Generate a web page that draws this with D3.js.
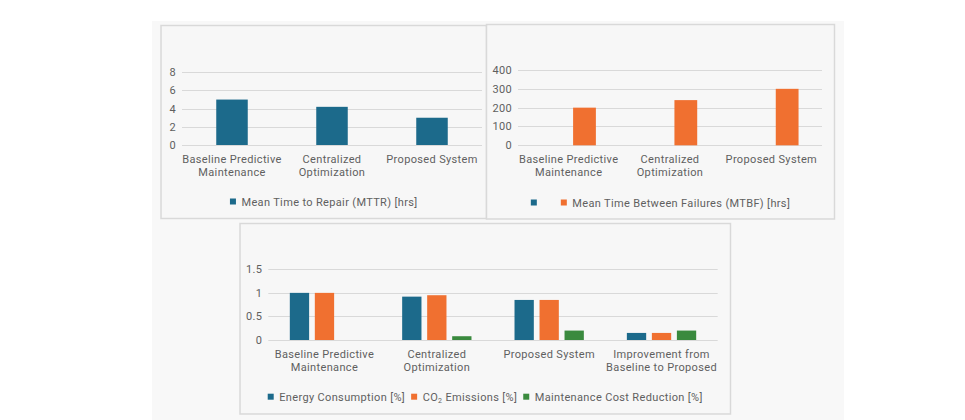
<!DOCTYPE html>
<html>
<head>
<meta charset="utf-8">
<script src="https://cdn.jsdelivr.net/npm/d3@7"></script>
<style>
	body { margin: 0; background: #ffffff; }
	svg { display: block; font-family: Roboto, "Noto Sans", sans-serif; }
	.tick-label, .cat-label, .legend-label { font-size: 11px; fill: #5f5f5f; letter-spacing: 0.35px; }
</style>
</head>
<body>
<svg id="chart" width="965" height="420"></svg>
<script>
// === Data ===
const categories = ['Baseline Predictive\nMaintenance', 'Centralized\nOptimization', 'Proposed System'];
const categoriesAll = ['Baseline Predictive\nMaintenance', 'Centralized\nOptimization', 'Proposed System', 'Improvement from\nBaseline to Proposed'];

const mttrSeries = ['Mean Time to Repair (MTTR) [hrs]'];
const mttrValues = [[5, 4.2, 3]];
const mttrTicks = [0, 2, 4, 6, 8];

const mtbfSeries = ['', 'Mean Time Between Failures (MTBF) [hrs]'];
const mtbfValues = [[null, null, null], [200, 240, 300]];
const mtbfTicks = [0, 100, 200, 300, 400];

const impactSeries = ['Energy Consumption [%]', 'CO2 Emissions [%]', 'Maintenance Cost Reduction [%]'];
const energyValues = [1, 0.92, 0.85, 0.15];
const co2Values = [1, 0.95, 0.85, 0.15];
const costValues = [0, 0.08, 0.2, 0.2];
const impactTicks = [0, 0.5, 1, 1.5];
const impactTickLabels = ['0', '0.5', '1', '1.5'];

const colors = ['#1c6a8b', '#f07030', '#3a8a3e'];

const svg = d3.select('#chart');

// background panel
svg.append('rect').attr('x', 152).attr('y', 21).attr('width', 692).attr('height', 400).attr('fill', '#f8f8f8');

function drawChart(cfg) {
	const g = svg.append('g');

	// box
	g.append('rect')
		.attr('x', cfg.box.x).attr('y', cfg.box.y)
		.attr('width', cfg.box.w).attr('height', cfg.box.h)
		.attr('fill', '#f7f7f7').attr('stroke', '#d9d9d9').attr('stroke-width', 1.5);

	const x0 = d3.scaleBand().domain(cfg.categories).range([cfg.plot.left, cfg.plot.right])
		.paddingInner(cfg.pad).paddingOuter(cfg.pad / 2);
	const x1 = d3.scaleBand().domain(d3.range(cfg.series.length)).range([0, x0.bandwidth()])
		.paddingInner(cfg.innerPad);
	const y = d3.scaleLinear().domain(cfg.domain).range([cfg.plot.bottom, cfg.plot.top]);

	// gridlines
	g.append('g').selectAll('line').data(cfg.ticks).join('line')
		.attr('x1', cfg.plot.left).attr('x2', cfg.plot.right)
		.attr('y1', d => Math.round(y(d)) + 0.5).attr('y2', d => Math.round(y(d)) + 0.5)
		.attr('stroke', '#d9d9d9').attr('stroke-width', 1);

	// y tick labels
	g.append('g').selectAll('text').data(cfg.ticks).join('text')
		.attr('class', 'tick-label')
		.attr('x', cfg.plot.left - 6)
		.attr('y', d => y(d) + 4)
		.attr('text-anchor', 'end')
		.text((d, i) => cfg.tickLabels ? cfg.tickLabels[i] : d);

	// bars
	cfg.series.forEach((s, si) => {
		const vals = cfg.values[si];
		g.append('g').selectAll('rect')
			.data(cfg.categories.map((c, ci) => ({ c, v: vals[ci] })).filter(d => d.v != null && d.v > 0))
			.join('rect')
			.attr('x', d => x0(d.c) + x1(si))
			.attr('y', d => y(d.v))
			.attr('width', x1.bandwidth())
			.attr('height', d => y(0) - y(d.v))
			.attr('fill', colors[cfg.colorOffset + si]);
	});

	// category labels
	const catG = g.append('g');
	cfg.categories.forEach(c => {
		const t = catG.append('text').attr('class', 'cat-label')
			.attr('text-anchor', 'middle')
			.attr('x', x0(c) + x0.bandwidth() / 2)
			.attr('y', cfg.plot.bottom + 18);
		c.split('\n').forEach((line, li) => {
			t.append('tspan').attr('x', x0(c) + x0.bandwidth() / 2)
				.attr('dy', li === 0 ? 0 : 12.5).text(line);
		});
	});

	// legend
	const leg = g.append('g');
	let cx = 0;
	cfg.series.forEach((s, si) => {
		const item = leg.append('g').attr('transform', `translate(${cx},0)`);
		item.append('rect').attr('x', 0).attr('y', -3).attr('width', 6).attr('height', 6)
			.attr('fill', colors[cfg.colorOffset + si]);
		const t = item.append('text').attr('class', 'legend-label').attr('x', 11.5).attr('y', 4);
		if (s.startsWith('CO2')) {
			t.append('tspan').text('CO');
			t.append('tspan').attr('font-size', '7px').attr('dy', 2).text('2');
			t.append('tspan').attr('dy', -2).text(s.slice(3));
		} else {
			t.text(s);
		}
		const w = s === '' ? 12.5 : t.node().getComputedTextLength();
		cx += 11.5 + w + 6;
	});
	const legW = cx - 6;
	leg.attr('transform', `translate(${cfg.box.x + cfg.box.w / 2 - legW / 2},${cfg.legendY})`);
}

drawChart({
	box: { x: 161, y: 25.5, w: 325.5, h: 193 },
	plot: { left: 182, right: 482, top: 72.3, bottom: 145 },
	categories: categories, series: mttrSeries, values: mttrValues,
	domain: [0, 8], ticks: mttrTicks,
	pad: 0.685, innerPad: 0, colorOffset: 0, legendY: 201.5
});

drawChart({
	box: { x: 486.5, y: 24.5, w: 348, h: 194.5 },
	plot: { left: 518, right: 822, top: 70, bottom: 145.3 },
	categories: categories, series: mtbfSeries, values: mtbfValues,
	domain: [0, 400], ticks: mtbfTicks,
	pad: 0.463, innerPad: 0.28, colorOffset: 0, legendY: 202.5
});

drawChart({
	box: { x: 240, y: 223.5, w: 490.5, h: 190.5 },
	plot: { left: 268.3, right: 717.7, top: 269.3, bottom: 340 },
	categories: categoriesAll, series: impactSeries, values: [energyValues, co2Values, costValues],
	domain: [0, 1.5], ticks: impactTicks, tickLabels: impactTickLabels,
	pad: 0.383, innerPad: 0.228, colorOffset: 0, legendY: 396.7
});
</script>
</body>
</html>
